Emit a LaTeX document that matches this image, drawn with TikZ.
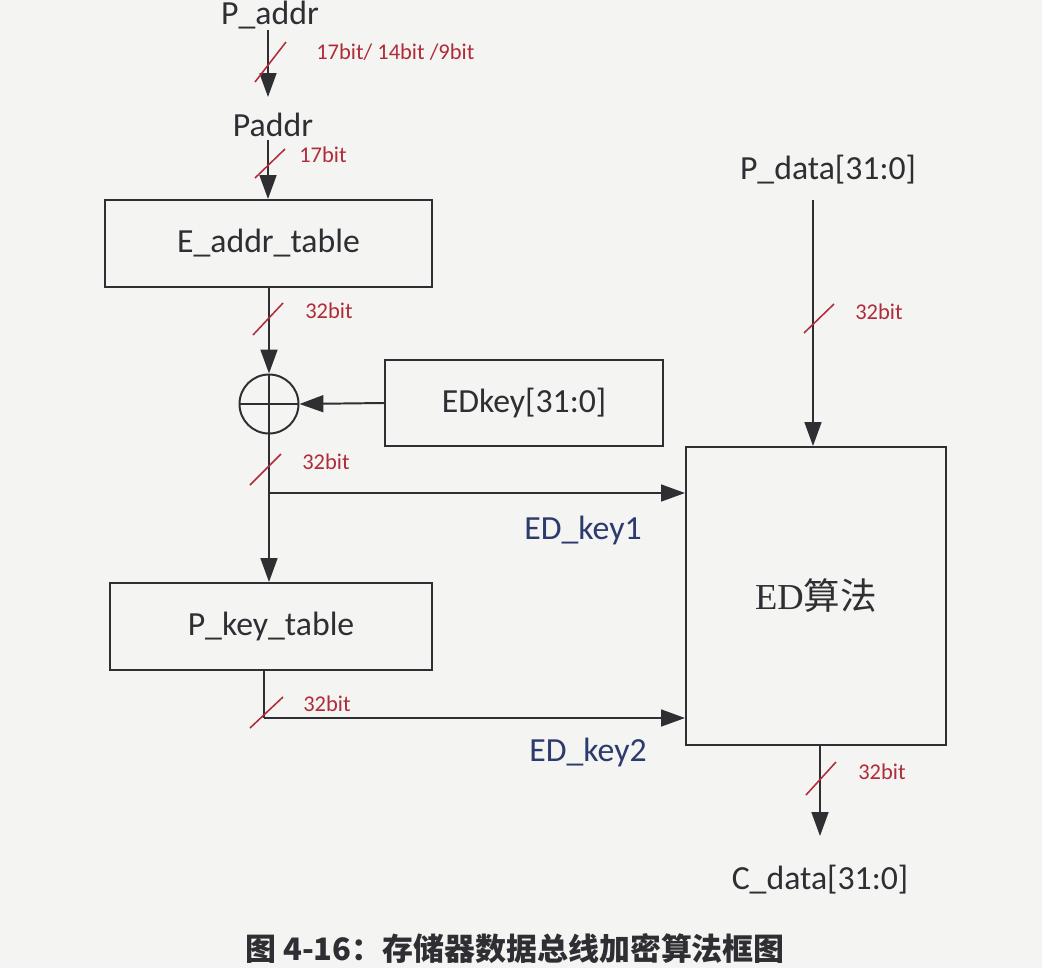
\documentclass[tikz,border=0pt]{standalone}
\usepackage{fontspec}
\setmainfont{Carlito}
\newfontfamily\cjk{Noto Sans CJK SC}
\newfontfamily\serifed{Liberation Serif}
\usetikzlibrary{arrows.meta,calc}
\definecolor{bg}{HTML}{F4F4F2}
\definecolor{ink}{HTML}{2E2E33}
\definecolor{bitred}{HTML}{B02C3A}
\definecolor{keyblue}{HTML}{2D3A6E}
\tikzset{
  x=0.025cm, y=-0.025cm,
  box/.style={draw=ink, line width=1.4pt, rectangle, inner sep=0pt, text=ink,
    font=\fontsize{24}{28}\selectfont},
  arr/.style={draw=ink, line width=1.4pt, -{Triangle[length=17pt,width=12pt]}},
  wire/.style={draw=ink, line width=1.4pt},
  slash/.style={draw=bitred, line width=1.1pt},
  bitlbl/.style={text=bitred, font=\fontsize{16}{19}\selectfont, anchor=west, inner sep=0pt},
  sig/.style={text=ink, font=\fontsize{24}{28}\selectfont, inner sep=2pt},
  keylbl/.style={text=keyblue, font=\fontsize{24}{28}\selectfont, inner sep=0pt},
}
\begin{document}
\begin{tikzpicture}
\fill[bg] (0,0) rectangle (1042,968);
\useasboundingbox (0,0) rectangle (1042,968);

% signal labels
\node[sig] (pa) at (270,15) {P\_addr};
\node[sig] (paddr) at (273,125) {Paddr};
\node[sig] (pdata) at (828,170) {P\_data[31:0]};
\node[sig] (cdata) at (820,880) {C\_data[31:0]};

% boxes
\node[box, minimum width=8.175cm, minimum height=2.175cm] (eaddr) at (268.5,243.5) {E\_addr\_table};
\node[box, minimum width=6.95cm, minimum height=2.15cm] (edkey) at (524,403) {EDkey[31:0]};
\node[box, minimum width=8.05cm, minimum height=2.175cm] (pkey) at (271,626.5) {P\_key\_table};
\node[box, minimum width=6.5cm, minimum height=7.45cm, font=\fontsize{26}{30}\selectfont] (ed) at (816,596) {{\serifed ED}{\cjk 算法}};
\node[draw=ink, line width=1.4pt, circle, minimum size=1.475cm, inner sep=0pt] (xor) at (269,404) {};
\draw[wire] (xor.north) -- (xor.south) (xor.west) -- (xor.east);

% coordinates for free ends
\coordinate (paS) at (268,30);
\coordinate (paddrS) at (268,140);
\coordinate (pdS) at (813,200);
\coordinate (cdN) at (820,836);
\coordinate (br1) at (269,493);
\coordinate (pkS) at (264,670);
\coordinate (br2) at (264,718);

% connectors
\draw[arr] (paS) -- (268,97);
\draw[arr] (paddrS) -- (paddrS |- eaddr.north);
\draw[arr] (xor.north |- eaddr.south) -- (xor.north);
\draw[arr] (edkey.west) -- (xor.east);
\draw[arr] (xor.south) -- (xor.south |- pkey.north);
\draw[arr] (br1) -- (br1 -| ed.west);
\draw[wire] (pkS) -- (br2);
\draw[arr] (br2) -- (br2 -| ed.west);
\draw[arr] (pdS) -- (pdS |- ed.north);
\draw[arr] (cdN |- ed.south) -- (cdN);

% bus-width slashes and labels
\draw[slash] (255,82) -- (286,42);
\node[bitlbl] (b1) at (316,52) {17bit/ 14bit /9bit};
\draw[slash] (255,178) -- (285,149);
\node[bitlbl] (b2) at (299,155) {17bit};
\draw[slash] (253,335) -- (283,303);
\node[bitlbl] (b3) at (305,311) {32bit};
\draw[slash] (250,485) -- (281,454);
\node[bitlbl] (b4) at (302,462) {32bit};
\draw[slash] (250,728) -- (283,697);
\node[bitlbl] (b5) at (303,704) {32bit};
\draw[slash] (804,333) -- (834,304);
\node[bitlbl] (b6) at (855,312) {32bit};
\draw[slash] (806,795) -- (836,762);
\node[bitlbl] (b7) at (858,772) {32bit};

% key labels
\node[keylbl] (k1) at (583,530) {ED\_key1};
\node[keylbl] (k2) at (588,752) {ED\_key2};

% caption
\node[text=ink, font=\cjk\bfseries\fontsize{22}{26}\selectfont, anchor=south west, inner sep=0pt] (cap) at (245,964) {图 4-16：存储器数据总线加密算法框图};
\end{tikzpicture}
\end{document}
